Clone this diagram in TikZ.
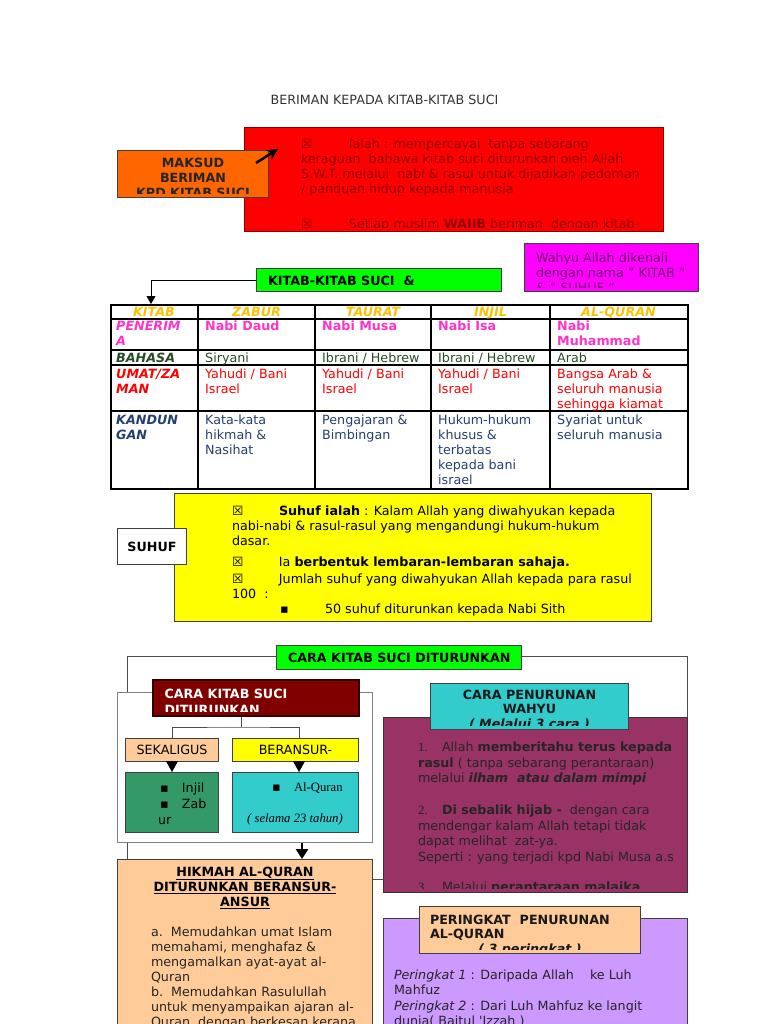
\documentclass[tikz,border=0pt]{standalone}
\usepackage{fontspec}
\setmainfont{DejaVu Sans}
\newfontfamily\hurufserif{Liberation Serif}
\usepackage{xcolor}
\usepackage{tikz}
\usetikzlibrary{arrows.meta}

\definecolor{oren}{HTML}{FF6600}
\definecolor{merah}{HTML}{FF0000}
\definecolor{merahtua}{HTML}{8E0000}
\definecolor{marun}{HTML}{800000}
\definecolor{merahjambu}{HTML}{FF00FF}
\definecolor{ungutua}{HTML}{6A006A}
\definecolor{hijau}{HTML}{00FF00}
\definecolor{kuning}{HTML}{FFFF00}
\definecolor{emas}{HTML}{FFC000}
\definecolor{pink}{HTML}{FF33CC}
\definecolor{hijautua}{HTML}{264D26}
\definecolor{biru}{HTML}{24406E}
\definecolor{pic}{HTML}{FFCC99}
\definecolor{hijaulaut}{HTML}{339966}
\definecolor{sian}{HTML}{33CCCC}
\definecolor{ungu}{HTML}{993366}
\definecolor{lavender}{HTML}{CC99FF}

% teks dipotong sedikit di atas garis bawah kotak
\newcommand{\potong}{\clip (path picture bounding box.north west) rectangle ([shift={(0,-4)}]path picture bounding box.south east);}

\begin{document}
\begin{tikzpicture}[x=1pt, y=-1pt, >={Triangle[width=9pt,length=8pt]},
    kotak/.style={draw=black!75, line width=1pt, inner sep=0pt, anchor=north west},
    isi/.style={draw=none, fill=none, inner sep=0pt, minimum width=0pt, minimum height=0pt,
        align=left, anchor=north west, font=\fontsize{12.7}{15}\selectfont},
    tebal/.style={isi, font=\bfseries\fontsize{12.7}{15}\selectfont},
    tajuk/.style={isi, font=\bfseries\itshape\fontsize{12.7}{15}\selectfont},
    garistabel/.style={line width=1.6pt, black},
    garis/.style={line width=0.8pt, black!70}]
    \useasboundingbox (0,0) rectangle (768,1024);
    \clip (0,0) rectangle (768,1024);

    \node[isi, anchor=center, text=black!80] (judul) at (384.5,100) {BERIMAN KEPADA KITAB-KITAB SUCI};

    % maksud beriman
    \node[kotak, fill=merah, draw=marun, minimum width=419, minimum height=104,
        path picture={\potong\node[isi, text=merahtua] at ([shift={(56,11)}]path picture bounding box.north west)
        {\makebox[48pt][l]{☒}Ialah : mempercayai\ \ tanpa sebarang\\
         keraguan\ \ bahawa kitab suci diturunkah oleh Allah\\
         S.W.T. melalui\ \ nabi \& rasul untuk dijadikan pedoman\\
         / panduan hidup kepada manusia\\[20pt]
         \makebox[48pt][l]{☒}Setiap muslim \textbf{WAJIB} beriman\ \ dengan kitab-};}] (ialah) at (244,127) {};
    \node[kotak, fill=oren, minimum width=151, minimum height=47,
        path picture={\potong\node[tebal, align=center, anchor=north, text=black!85] at ([shift={(0,7)}]path picture bounding box.north)
        {MAKSUD\\BERIMAN\\KPD KITAB SUCI};}] (maksud) at (117,150) {};
    \coordinate (pangkal) at ([shift={(-13,13)}]maksud.north east);
    \coordinate (hujung) at ([shift={(34,22)}]ialah.north west);
    \draw[-{Stealth[length=11pt,width=11pt]}, line width=2.5pt] (pangkal) -- (hujung);

    \node[kotak, fill=merahjambu, minimum width=174, minimum height=48,
        path picture={\potong\node[isi, text=ungutua] at ([shift={(11,9)}]path picture bounding box.north west)
        {Wahyu Allah dikenali\\dengan nama " KITAB "\\\& " SUHUF "};}] (wahyu) at (524,243) {};
    \node[kotak, fill=hijau, minimum width=245, minimum height=23,
        path picture={\node[tebal, anchor=west] at ([shift={(11,12)}]path picture bounding box.north west)
        {KITAB-KITAB SUCI\ \ \&};}] (kitab) at (256,268) {};

    % jadual kitab
    \node[kotak, draw=black, line width=1.6pt, minimum width=577, minimum height=184] (tabel) at (110,304) {};
    \draw[->, line width=0.8pt] (kitab.west) -| ([shift={(41,0)}]tabel.north west);
    \foreach \x in {198,315,431,550} \draw[garistabel] (\x,304) -- (\x,488);
    \foreach \y in {319,350,365,411} \draw[garistabel] (110,\y) -- (687,\y);
    \foreach \x/\t [count=\i] in {154/KITAB, 256.5/ZABUR, 373/TAURAT, 490.5/INJIL, 618.5/AL-QURAN}
        \node[tajuk, anchor=base, text=emas] (kepala\i) at (\x,316) {\t};

    \node[tajuk, text=pink] (penerima) at (116,321) {PENERIM\\A};
    \node[tebal, text=pink] (penerima1) at (205,321) {Nabi Daud};
    \node[tebal, text=pink] (penerima2) at (322,321) {Nabi Musa};
    \node[tebal, text=pink] (penerima3) at (438,321) {Nabi Isa};
    \node[tebal, text=pink] (penerima4) at (557,321) {Nabi\\Muhammad};

    \node[tajuk, text=hijautua] (bahasa) at (116,353) {BAHASA};
    \node[isi, text=hijautua] (bahasa1) at (205,353) {Siryani};
    \node[isi, text=hijautua] (bahasa2) at (322,353) {Ibrani / Hebrew};
    \node[isi, text=hijautua] (bahasa3) at (438,353) {Ibrani / Hebrew};
    \node[isi, text=hijautua] (bahasa4) at (557,353) {Arab};

    \node[tajuk, text=merah] (umat) at (116,369) {UMAT/ZA\\MAN};
    \node[isi, text=merah] (umat1) at (205,369) {Yahudi / Bani\\Israel};
    \node[isi, text=merah] (umat2) at (322,369) {Yahudi / Bani\\Israel};
    \node[isi, text=merah] (umat3) at (438,369) {Yahudi / Bani\\Israel};
    \node[isi, text=merah] (umat4) at (557,369) {Bangsa Arab \&\\seluruh manusia\\sehingga kiamat};

    \node[tajuk, text=biru] (kandungan) at (116,415) {KANDUN\\GAN};
    \node[isi, text=biru] (kandungan1) at (205,415) {Kata-kata\\hikmah \&\\Nasihat};
    \node[isi, text=biru] (kandungan2) at (322,415) {Pengajaran \&\\Bimbingan};
    \node[isi, text=biru] (kandungan3) at (438,415) {Hukum-hukum\\khusus \&\\terbatas\\kepada bani\\israel};
    \node[isi, text=biru] (kandungan4) at (557,415) {Syariat untuk\\seluruh manusia};

    % suhuf
    \node[kotak, fill=kuning, minimum width=477, minimum height=128,
        path picture={\node[isi, text=black] at ([shift={(57,12)}]path picture bounding box.north west)
        {\makebox[47pt][l]{☒}\textbf{Suhuf ialah} : Kalam Allah yang diwahyukan kepada\\
         nabi-nabi \& rasul-rasul yang mengandungi hukum-hukum\\
         dasar.\\[6pt]
         \makebox[47pt][l]{☒}Ia \textbf{berbentuk lembaran-lembaran sahaja.}\\[2pt]
         \makebox[47pt][l]{☒}Jumlah suhuf yang diwahyukan Allah kepada para rasul\\
         100\ \ :\\
         \hspace*{48pt}\makebox[45pt][l]{▪}50 suhuf diturunkan kepada Nabi Sith};}] (ialahsuhuf) at (174,493) {};
    \node[kotak, fill=white, minimum width=69, minimum height=36,
        font=\bfseries\fontsize{12.7}{15}\selectfont] (suhuf) at (117,528) {SUHUF};

    % cara kitab suci diturunkan
    \node[kotak, draw=black!70, line width=0.8pt, minimum width=560, minimum height=223] (bingkai) at (127,656) {};
    \node[kotak, fill=hijau, minimum width=245, minimum height=24,
        path picture={\node[tebal, anchor=west] at ([shift={(11,12)}]path picture bounding box.north west)
        {CARA KITAB SUCI DITURUNKAN};}] (judulcara) at (276,645) {};
    \node[kotak, fill=white, draw=black!50, line width=0.8pt, minimum width=255, minimum height=150] (bingkaidalam) at (117,692) {};
    \node[kotak, fill=marun, draw=black!60!marun, line width=1.5pt, minimum width=206, minimum height=36,
        path picture={\potong\node[tebal, text=white, font=\bfseries\fontsize{12.7}{16}\selectfont] at ([shift={(11,9)}]path picture bounding box.north west)
        {CARA KITAB SUCI\\DITURUNKAN};}] (caraturun) at (152,679) {};

    \node[kotak, fill=pic, minimum width=93, minimum height=23, font=\fontsize{12.7}{15}\selectfont] (sekaligus) at (125,738) {SEKALIGUS};
    \node[kotak, fill=kuning, minimum width=126, minimum height=23, font=\fontsize{12.7}{15}\selectfont] (beransur) at (232,738) {BERANSUR-};
    \coordinate (cabang) at (241,727);
    \draw[garis] (caraturun.south -| cabang) -- (cabang);
    \draw[garis] (sekaligus.north) |- (cabang) -| ([shift={(67,0)}]beransur.north west);

    \node[kotak, fill=hijaulaut, minimum width=93, minimum height=60,
        path picture={\node[isi, text=black, font=\fontsize{12.7}{16}\selectfont] at ([shift={(32,10)}]path picture bounding box.north west)
        {\hspace*{2pt}\makebox[22pt][l]{▪}Injil\\\hspace*{2pt}\makebox[22pt][l]{▪}Zab\\ur};}] (injil) at (125,772) {};
    \node[kotak, fill=sian, minimum width=126, minimum height=60,
        path picture={\node[isi, text=black] at ([shift={(39,10)}]path picture bounding box.north west)
        {\makebox[22pt][l]{▪}{\hurufserif Al-Quran}};
        \node[isi, anchor=center, text=black] at ([shift={(62.5,47)}]path picture bounding box.north west)
        {\hurufserif\itshape ( selama 23 tahun)};}] (alquran) at (232,772) {};
    \draw[-{Triangle[width=12pt,length=11pt]}] (sekaligus.south) -- (injil.north);
    \draw[-{Triangle[width=12pt,length=11pt]}] ([shift={(67,0)}]beransur.south west) -- ([shift={(67,0)}]alquran.north west);

    % cara penurunan wahyu
    \node[kotak, fill=ungu, draw=black!80, minimum width=304, minimum height=175,
        path picture={\potong\node[isi, text=black!85, font=\fontsize{12.7}{15.5}\selectfont] at ([shift={(34,24)}]path picture bounding box.north west)
        {\makebox[24pt][l]{\hurufserif 1.}Allah \textbf{memberitahu terus kepada}\\
         \textbf{rasul} ( tanpa sebarang perantaraan)\\
         melalui \textbf{\textit{ilham\ \ atau dalam mimpi}}\\[16.5pt]
         \makebox[24pt][l]{\hurufserif 2.}\textbf{Di sebalik hijab -}\ \ dengan cara\\
         mendengar kalam Allah tetapi tidak\\
         dapat melihat\ \ zat-ya.\\
         Seperti : yang terjadi kpd Nabi Musa a.s\\[14.5pt]
         \makebox[24pt][l]{\hurufserif 3.}Melalui \textbf{perantaraan malaika}};}] (penurunan) at (383,717) {};
    \node[kotak, fill=sian, minimum width=198, minimum height=46,
        path picture={\potong\node[tebal, align=center, anchor=north, text=black!90, font=\bfseries\fontsize{12.7}{14.5}\selectfont] at ([shift={(0,6)}]path picture bounding box.north)
        {CARA PENURUNAN\\WAHYU\\\textit{( Melalui 3 cara )}};}] (carawahyu) at (430,683) {};

    % hikmah beransur-ansur
    \node[kotak, fill=pic, minimum width=255, minimum height=200,
        path picture={\node[tebal, align=center, anchor=north, text=black] at ([shift={(0,7)}]path picture bounding box.north)
        {\underline{HIKMAH AL-QURAN}\\\underline{DITURUNKAN BERANSUR-}\\\underline{ANSUR}};
        \node[isi, text=black!85] at ([shift={(33,67)}]path picture bounding box.north west)
        {a.\ \ Memudahkan umat Islam\\
         memahami, menghafaz \&\\
         mengamalkan ayat-ayat al-\\
         Quran\\
         b.\ \ Memudahkan Rasulullah\\
         untuk menyampaikan ajaran al-\\
         Quran\ \ dengan berkesan kerana};}] (hikmah) at (117,859) {};
    \draw[->, line width=2.5pt, >={Triangle[width=12pt,length=10pt]}] ([shift={(185,0)}]bingkaidalam.south west) -- ([shift={(185,0)}]hikmah.north west);

    % peringkat penurunan
    \node[kotak, fill=lavender, minimum width=304, minimum height=150,
        path picture={\node[isi, text=black!85, font=\fontsize{12.7}{15.3}\selectfont] at ([shift={(10,51)}]path picture bounding box.north west)
        {\textit{Peringkat 1} : Daripada Allah\ \ \ \ ke Luh\\
         Mahfuz\\
         \textit{Peringkat 2} : Dari Luh Mahfuz ke langit\\
         dunia( Baitul \textquotesingle Izzah )};}] (peringkat) at (383,918) {};
    \node[kotak, fill=pic, minimum width=221, minimum height=47,
        path picture={\potong\node[tebal, text=black!90, font=\bfseries\fontsize{12.7}{14.5}\selectfont] at ([shift={(10,8)}]path picture bounding box.north west)
        {PERINGKAT\ \ PENURUNAN\\AL-QURAN};
        \node[tajuk, anchor=north, text=black!90] at ([shift={(0,37)}]path picture bounding box.north)
        {( 3 peringkat )};}] (judulperingkat) at (419,906) {};
\end{tikzpicture}
\end{document}
